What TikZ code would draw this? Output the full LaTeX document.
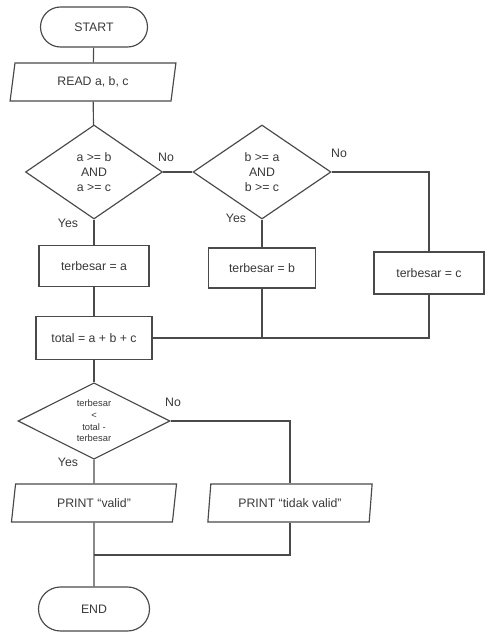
\documentclass[tikz,border=0pt]{standalone}
\usepackage{fontspec}
\setmainfont{Liberation Sans}
\usetikzlibrary{shapes.geometric,shapes.misc}
\definecolor{linegray}{HTML}{4A4A4A}
\definecolor{textgray}{HTML}{383838}
\tikzset{
    base/.style={draw=linegray, line width=1pt, text=textgray, inner sep=0pt,
        align=center, font=\fontsize{10.5}{13}\selectfont},
    terminal/.style={base, rounded rectangle},
    io/.style={base, trapezium, trapezium left angle=78, trapezium right angle=102,
        trapezium stretches=true},
    process/.style={base, rectangle},
    decision/.style={base, diamond},
    answer/.style={text=textgray, font=\fontsize{10.5}{13}\selectfont, inner sep=0pt},
    flow/.style={draw=linegray, line width=1pt}
}
\begin{document}
\begin{tikzpicture}[x=0.03cm, y=-0.03cm]
    \useasboundingbox (0,0) rectangle (498,639);

    % Start and input
    \node[terminal, minimum width=3.21cm, minimum height=1.2cm] (start) at (94,27) {START};
    \node[io, minimum width=4.98cm, minimum height=1.14cm] (read) at (93,82) {READ a, b, c};

    % Decisions for the largest value
    \node[decision, minimum width=4.11cm, minimum height=2.82cm] (cekA) at (94,172) {a >= b\\AND\\a >= c};
    \node[decision, minimum width=4.14cm, minimum height=2.82cm] (cekB) at (262,172) {b >= a\\AND\\b >= c};

    % Assignments
    \node[process, minimum width=3.3cm, minimum height=1.23cm] (besarA) at (94,266) {terbesar = a};
    \node[process, minimum width=3.21cm, minimum height=1.2cm] (besarB) at (262,268) {terbesar = b};
    \node[process, minimum width=3.3cm, minimum height=1.26cm] (besarC) at (429,273) {terbesar = c};
    \node[process, minimum width=3.48cm, minimum height=1.29cm] (total) at (94,338) {total = a + b + c};

    % Validity check
    \node[decision, minimum width=4.56cm, minimum height=2.1cm,
        font=\fontsize{8}{10}\selectfont] (cekValid) at (94,421) {terbesar\\<\\total -\\terbesar};
    \node[io, minimum width=4.98cm, minimum height=1.14cm] (valid) at (94,503) {PRINT “valid”};
    \node[io, minimum width=4.95cm, minimum height=1.14cm] (tidak) at (290,503) {PRINT “tidak valid”};
    \node[terminal, minimum width=3.33cm, minimum height=1.32cm] (end) at (94,609) {END};
    \coordinate (gabung) at (94,555);

    % Labels
    \node[answer] (noA) at (166,157) {No};
    \node[answer] (yesA) at (68,223) {Yes};
    \node[answer] (noB) at (339,153) {No};
    \node[answer] (yesB) at (236,218) {Yes};
    \node[answer] (noV) at (173,402) {No};
    \node[answer] (yesV) at (68,462) {Yes};

    % Connectors
    \draw[flow] (start) -- (read);
    \draw[flow] (read) -- (cekA);
    \draw[flow] (cekA.east) -- (cekB.west);
    \draw[flow] (cekA.south) -- (besarA.north);
    \draw[flow] (cekB.south) -- (besarB.north);
    \draw[flow] (cekB.east) -| (besarC.north);
    \draw[flow] (besarA.south) -- (total.north);
    \draw[flow] (total.east) -| (besarC.south);
    \draw[flow] (besarB.south) -- (besarB.south |- total.east);
    \draw[flow] (total.south) -- (cekValid.north);
    \draw[flow] (cekValid.south) -- (valid.north);
    \draw[flow] (cekValid.east) -| (tidak.north);
    \draw[flow] (valid.south) -- (end.north);
    \draw[flow] (tidak.south) |- (gabung);
\end{tikzpicture}
\end{document}
